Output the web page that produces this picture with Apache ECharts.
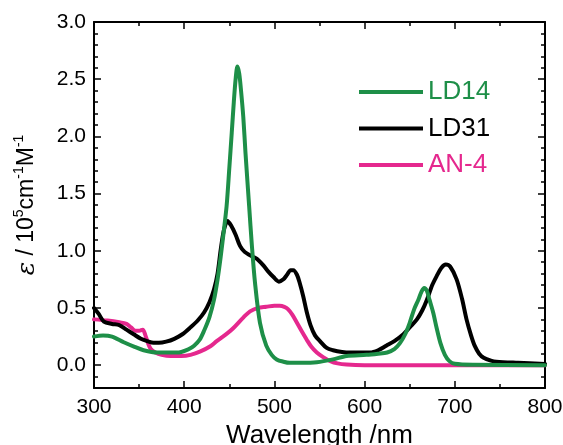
<!DOCTYPE html>
<html>
<head>
<meta charset="utf-8">
<script src="https://cdn.jsdelivr.net/npm/echarts@6/dist/echarts.min.js"></script>
<style>html,body{margin:0;padding:0;background:#fff}#c{width:563px;height:445px}</style>
</head>
<body>
<div id="c"></div>
<script>
const seriesNames = ['LD14', 'LD31', 'AN-4'];
const xTicks = [300, 400, 500, 600, 700, 800];
const yTickLabels = [0, 0.5, 1.0, 1.5, 2.0, 2.5, 3.0];

const ld14X = [300,310,320,333,345,355,370,392,405,411,417,422,428,433,437,440.5,444,447,450,452.7,455,457,459,461,463,465.5,468,472,475,478.5,484,491,497,502.5,510,517,530,547,565,580,602,615,625,633,639,645,650,655,659.5,663,666,669,672,676,680,684,689,694,700,720,800];
const ld14Y = [0.25,0.26,0.25,0.20,0.16,0.13,0.11,0.11,0.14,0.17,0.22,0.30,0.42,0.57,0.75,0.95,1.18,1.39,1.72,2.03,2.30,2.50,2.61,2.55,2.40,2.17,1.85,1.39,1.05,0.72,0.37,0.17,0.09,0.05,0.03,0.02,0.02,0.025,0.05,0.08,0.09,0.10,0.11,0.14,0.19,0.27,0.37,0.49,0.57,0.64,0.675,0.65,0.57,0.46,0.32,0.195,0.09,0.035,0.012,0.003,0.0];

const ld31X = [300,305,311,320,328,336,344,352,359,366,372,380,389,398,407,415,422,428,433,437,440.5,444,448,452,457,462,467,473,478,482,488,493,499,505,510,514,518,521,525,528,532,536,540,545,550.5,558,565,575,584,606,615,624,633,643,650,658,664,669,675,680,685,690,695,702,708,713,718,722,727,732,740,746,770,800];
const ld31Y = [0.50,0.45,0.38,0.36,0.35,0.31,0.27,0.23,0.21,0.195,0.195,0.205,0.23,0.27,0.33,0.39,0.46,0.55,0.66,0.80,1.01,1.18,1.26,1.22,1.14,1.04,0.99,0.96,0.94,0.92,0.87,0.82,0.77,0.73,0.75,0.79,0.83,0.83,0.79,0.72,0.60,0.46,0.35,0.26,0.21,0.15,0.13,0.115,0.11,0.11,0.13,0.17,0.21,0.27,0.33,0.40,0.48,0.57,0.70,0.78,0.85,0.88,0.86,0.75,0.58,0.40,0.26,0.17,0.10,0.065,0.04,0.03,0.02,0.01];

const an4X = [300,315,328,336,341,346,350,354,357,360,363,368,375,385,397,407,418,429,436,448,454,466,473,482,491,500,506,511,515,520,525,530,536,541,547,554,562,570,580,600,800];
const an4Y = [0.40,0.39,0.375,0.36,0.33,0.30,0.30,0.31,0.26,0.19,0.14,0.11,0.09,0.08,0.08,0.09,0.12,0.165,0.21,0.28,0.32,0.42,0.47,0.50,0.51,0.52,0.52,0.51,0.49,0.44,0.37,0.30,0.22,0.16,0.11,0.07,0.035,0.015,0.005,0.0,0.0];

const colors = ['#1e8f48', '#000000', '#e5288e'];

function pairs(xs, ys) { return xs.map((x, i) => [x, ys[i]]); }
const allData = [pairs(ld14X, ld14Y), pairs(ld31X, ld31Y), pairs(an4X, an4Y)];

const FONT = 'Liberation Sans';
const chart = echarts.init(document.getElementById('c'), null, {renderer: 'canvas'});
const yMinorVals = [];
for (let k = -2; k <= 30; k++) yMinorVals.push(+(k / 10).toFixed(1));

const tickLine = {color: '#000', width: 1.5};
const baseY = {
  type: 'value', min: -0.2, max: 3.0, splitLine: {show: false},
  axisLine: {show: false, onZero: false}, axisLabel: {show: false}
};
const option = {
  animation: false,
  backgroundColor: '#fff',
  grid: {left: 94, right: 18, top: 22, bottom: 57, containLabel: false, outerBoundsMode: 'none'},
  legend: {
    orient: 'vertical', left: 354, top: 74, itemWidth: 64, itemHeight: 26, itemGap: 10.5,
    icon: 'path://M0,0 L64,0 L64,4 L0,4 Z',
    data: seriesNames.map((n, i) => ({name: n, textStyle: {color: colors[i]}})),
    textStyle: {fontSize: 26, fontFamily: FONT}
  },
  xAxis: [
    {
      type: 'value', min: 300, max: 800, interval: 100, position: 'bottom',
      name: 'Wavelength /nm', nameLocation: 'middle', nameGap: 30,
      nameTextStyle: {fontSize: 26, fontFamily: FONT, color: '#000'},
      axisLine: {show: true, onZero: false, lineStyle: {color: '#000', width: 2}},
      axisTick: {show: true, inside: true, length: 7, lineStyle: tickLine},
      minorTick: {show: true, splitNumber: 2, length: 4, lineStyle: tickLine},
      axisLabel: {fontSize: 21, fontFamily: FONT, color: '#000', margin: 9},
      splitLine: {show: false}, minorSplitLine: {show: false}
    },
    {
      type: 'value', min: 300, max: 800, interval: 100, position: 'top',
      axisLine: {show: true, onZero: false, lineStyle: {color: '#000', width: 2}},
      axisTick: {show: true, inside: true, length: 7, lineStyle: tickLine},
      minorTick: {show: true, splitNumber: 2, length: 4, lineStyle: tickLine},
      axisLabel: {show: false}, splitLine: {show: false}
    }
  ],
  yAxis: [
    {
      type: 'value', min: -0.2, max: 3.0, position: 'left',
      name: '{e|ε} / 10{s|5}cm{s|-1}M{s|-1}', nameLocation: 'middle', nameGap: 52, nameRotate: 90,
      nameTextStyle: {fontSize: 23, fontFamily: FONT, color: '#000', lineHeight: 30,
        rich: {
          e: {fontSize: 25, fontStyle: 'italic', fontFamily: 'DejaVu Serif', color: '#000', lineHeight: 30},
          s: {fontSize: 14, fontFamily: FONT, color: '#000', verticalAlign: 'top', lineHeight: 30, padding: [0, 0, 10, 0]}
        }},
      axisLine: {show: true, onZero: false, lineStyle: {color: '#000', width: 2}},
      axisTick: {show: true, inside: true, length: 7, customValues: yTickLabels, lineStyle: tickLine},
      axisLabel: {fontSize: 21, fontFamily: FONT, color: '#000', margin: 8, customValues: yTickLabels,
        formatter: v => v.toFixed(1)},
      splitLine: {show: false}
    },
    Object.assign({}, baseY, {position: 'left',
      axisTick: {show: true, inside: true, length: 4, customValues: yMinorVals, lineStyle: tickLine}}),
    Object.assign({}, baseY, {position: 'right', axisLine: {show: true, onZero: false, lineStyle: {color: '#000', width: 2}},
      axisTick: {show: true, inside: true, length: 7, customValues: yTickLabels, lineStyle: tickLine}}),
    Object.assign({}, baseY, {position: 'right',
      axisTick: {show: true, inside: true, length: 4, customValues: yMinorVals, lineStyle: tickLine}})
  ],
  series: seriesNames.map((n, i) => ({
    name: n, type: 'line', data: allData[i], xAxisIndex: 0, yAxisIndex: 0,
    showSymbol: false, symbol: 'none', smooth: 0.3, clip: true,
    lineStyle: {color: colors[i], width: 4, cap: 'round', join: 'round'},
    itemStyle: {color: colors[i]}, z: 3 - i
  }))
};
chart.setOption(option);
</script>
</body>
</html>
